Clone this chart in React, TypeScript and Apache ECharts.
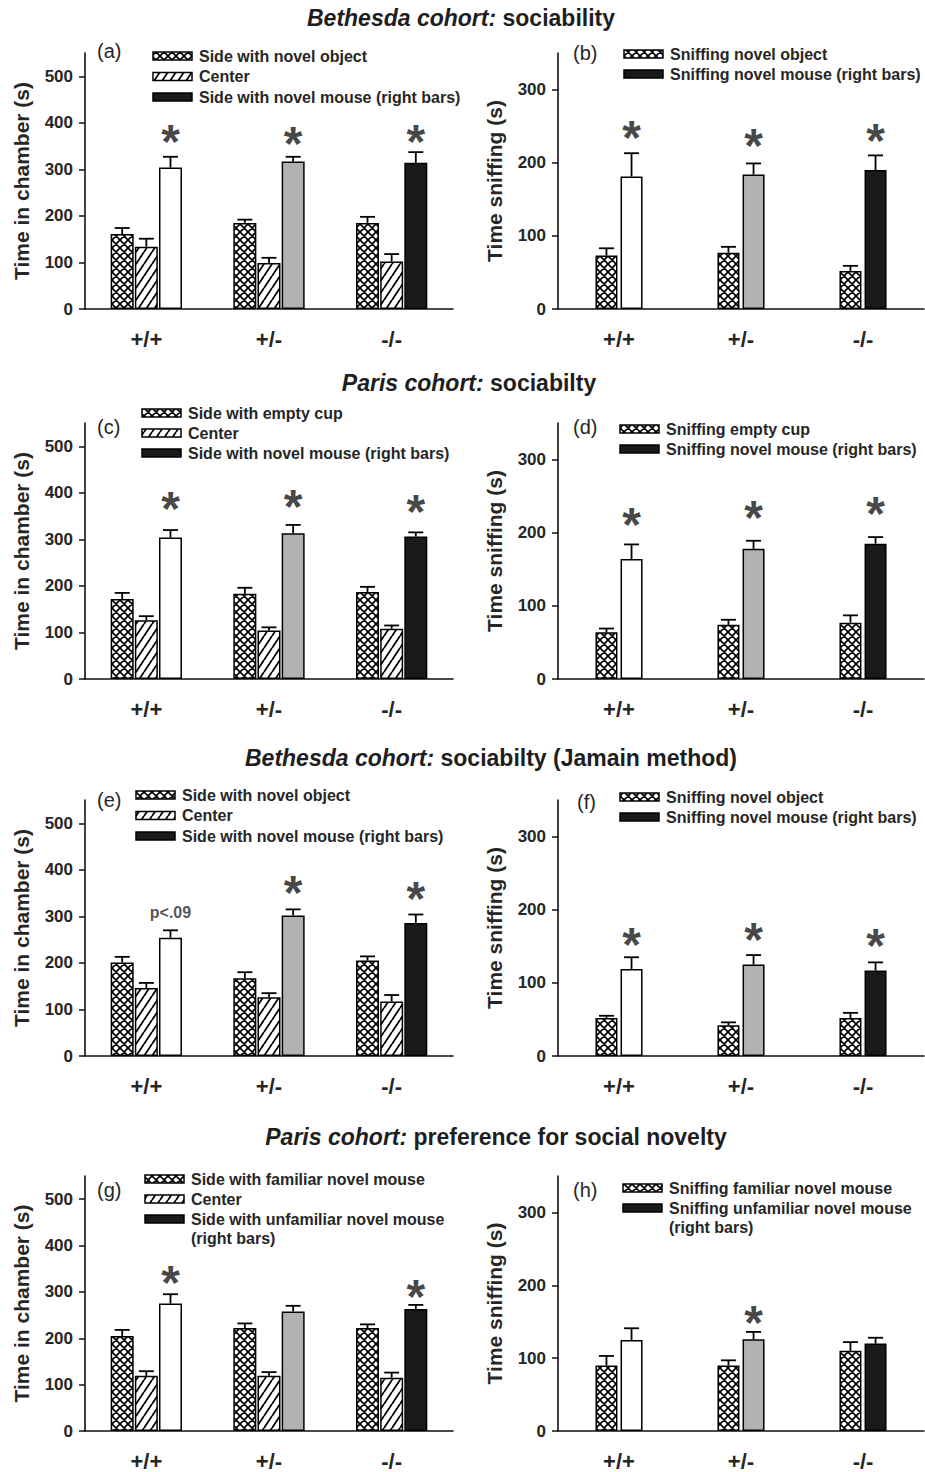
import React, { useEffect, useRef } from 'react';
import * as echarts from 'echarts';

const FONT = '"Liberation Sans", Arial, Helvetica, sans-serif';
const TXT = '#262626';

const categories = ['+/+', '+/-', '-/-'];
const chamberTicks = [0, 100, 200, 300, 400, 500];
const sniffTicks = [0, 100, 200, 300];

// (a)
const aObject = [161, 185, 185];
const aObjectSem = [13, 7, 13];
const aCenter = [134, 99, 102];
const aCenterSem = [17, 11, 16];
const aMouse = [304, 317, 314];
const aMouseSem = [23, 10, 23];
const aMarks = ['*', '*', '*'];
const aMarkAt = [372, 368, 372];
// (b)
const bObject = [73, 77, 52];
const bObjectSem = [10, 8, 7];
const bMouse = [181, 184, 190];
const bMouseSem = [32, 15, 20];
const bMarks = ['*', '*', '*'];
const bMarkAt = [243, 232, 238];
// (c)
const cCup = [172, 183, 187];
const cCupSem = [13, 13, 11];
const cCenter = [126, 104, 108];
const cCenterSem = [9, 7, 7];
const cMouse = [304, 313, 306];
const cMouseSem = [16, 18, 9];
const cMarks = ['*', '*', '*'];
const cMarkAt = [379, 383, 372];
// (d)
const dCup = [64, 74, 77];
const dCupSem = [5, 7, 10];
const dMouse = [164, 178, 185];
const dMouseSem = [20, 11, 9];
const dMarks = ['*', '*', '*'];
const dMarkAt = [220, 229, 234];
// (e)
const eObject = [201, 167, 205];
const eObjectSem = [12, 13, 9];
const eCenter = [146, 126, 117];
const eCenterSem = [11, 9, 14];
const eMouse = [254, 302, 286];
const eMouseSem = [16, 13, 18];
const eMarks = ['p<.09', '*', '*'];
const eMarkAt = [308, 365, 351];
// (f)
const fObject = [52, 42, 52];
const fObjectSem = [3, 4, 7];
const fMouse = [119, 125, 117];
const fMouseSem = [16, 13, 11];
const fMarks = ['*', '*', '*'];
const fMarkAt = [161, 168, 159];
// (g)
const gFamiliar = [205, 222, 222];
const gFamiliarSem = [13, 10, 8];
const gCenter = [119, 119, 115];
const gCenterSem = [10, 8, 11];
const gUnfamiliar = [275, 258, 263];
const gUnfamiliarSem = [20, 12, 9];
const gMarks = ['*', '', '*'];
const gMarkAt = [334, 0, 302];
// (h)
const hFamiliar = [90, 90, 110];
const hFamiliarSem = [13, 7, 12];
const hUnfamiliar = [125, 126, 120];
const hUnfamiliarSem = [16, 10, 8];
const hMarks = ['', '*', ''];
const hMarkAt = [0, 157, 0];

const titles = [
  { italic: 'Bethesda cohort:', plain: ' sociability' },
  { italic: 'Paris cohort:', plain: ' sociabilty' },
  { italic: 'Bethesda cohort:', plain: ' sociabilty (Jamain method)' },
  { italic: 'Paris cohort:', plain: ' preference for social novelty' },
];

type Fill = 'cross' | 'hatch' | 'solid';
interface BarDef { name: string; values: number[]; sem: number[]; fill: Fill }
interface PanelDef {
  label: string; row: number; col: number; bars: BarDef[]; marks: string[]; markAt: number[];
}

const panels: PanelDef[] = [
  { label: '(a)', row: 0, col: 0, marks: aMarks, markAt: aMarkAt, bars: [
    { name: 'Side with novel object', values: aObject, sem: aObjectSem, fill: 'cross' },
    { name: 'Center', values: aCenter, sem: aCenterSem, fill: 'hatch' },
    { name: 'Side with novel mouse (right bars)', values: aMouse, sem: aMouseSem, fill: 'solid' }] },
  { label: '(b)', row: 0, col: 1, marks: bMarks, markAt: bMarkAt, bars: [
    { name: 'Sniffing novel object', values: bObject, sem: bObjectSem, fill: 'cross' },
    { name: 'Sniffing novel mouse (right bars)', values: bMouse, sem: bMouseSem, fill: 'solid' }] },
  { label: '(c)', row: 1, col: 0, marks: cMarks, markAt: cMarkAt, bars: [
    { name: 'Side with empty cup', values: cCup, sem: cCupSem, fill: 'cross' },
    { name: 'Center', values: cCenter, sem: cCenterSem, fill: 'hatch' },
    { name: 'Side with novel mouse (right bars)', values: cMouse, sem: cMouseSem, fill: 'solid' }] },
  { label: '(d)', row: 1, col: 1, marks: dMarks, markAt: dMarkAt, bars: [
    { name: 'Sniffing empty cup', values: dCup, sem: dCupSem, fill: 'cross' },
    { name: 'Sniffing novel mouse (right bars)', values: dMouse, sem: dMouseSem, fill: 'solid' }] },
  { label: '(e)', row: 2, col: 0, marks: eMarks, markAt: eMarkAt, bars: [
    { name: 'Side with novel object', values: eObject, sem: eObjectSem, fill: 'cross' },
    { name: 'Center', values: eCenter, sem: eCenterSem, fill: 'hatch' },
    { name: 'Side with novel mouse (right bars)', values: eMouse, sem: eMouseSem, fill: 'solid' }] },
  { label: '(f)', row: 2, col: 1, marks: fMarks, markAt: fMarkAt, bars: [
    { name: 'Sniffing novel object', values: fObject, sem: fObjectSem, fill: 'cross' },
    { name: 'Sniffing novel mouse (right bars)', values: fMouse, sem: fMouseSem, fill: 'solid' }] },
  { label: '(g)', row: 3, col: 0, marks: gMarks, markAt: gMarkAt, bars: [
    { name: 'Side with familiar novel mouse', values: gFamiliar, sem: gFamiliarSem, fill: 'cross' },
    { name: 'Center', values: gCenter, sem: gCenterSem, fill: 'hatch' },
    { name: 'Side with unfamiliar novel mouse\n(right bars)', values: gUnfamiliar, sem: gUnfamiliarSem, fill: 'solid' }] },
  { label: '(h)', row: 3, col: 1, marks: hMarks, markAt: hMarkAt, bars: [
    { name: 'Sniffing familiar novel mouse', values: hFamiliar, sem: hFamiliarSem, fill: 'cross' },
    { name: 'Sniffing unfamiliar novel mouse\n(right bars)', values: hUnfamiliar, sem: hUnfamiliarSem, fill: 'solid' }] },
];

// layout (styles, not data)
const colLeft = [85, 558];
const colWidth = [368, 366];
const rowTop = [53, 423, 800, 1176];
const gridH = 256;
const rightBarColors = ['#ffffff', '#b2b2b2', '#1a1a1a'];
const legendPos = [
  [153, 56, 20.5], [624, 54, 20], [142, 413, 20], [620, 429, 20],
  [136, 795, 20.5], [620, 797, 20], [145, 1179, 20], [623, 1188, 20],
];
const labelPos = [[97, 51], [573, 53], [97, 427], [573, 427], [97, 800], [577, 802], [97, 1190], [573, 1190]];
const titlePos = [[461, 18], [469, 383], [491, 758], [496, 1137]];

function makeCross(p: number, lw: number) {
  const c = document.createElement('canvas');
  c.width = p; c.height = p;
  const g = c.getContext('2d')!;
  g.fillStyle = '#fff'; g.fillRect(0, 0, p, p);
  g.strokeStyle = '#000'; g.lineWidth = lw;
  g.beginPath();
  for (const o of [-p, 0, p]) {
    g.moveTo(o, 0); g.lineTo(o + p, p);
    g.moveTo(o, p); g.lineTo(o + p, 0);
  }
  g.stroke();
  return { image: c, repeat: 'repeat', imageWidth: p, imageHeight: p } as any;
}
function makeHatch(w: number, h: number, lw: number) {
  const c = document.createElement('canvas');
  c.width = w; c.height = h;
  const g = c.getContext('2d')!;
  g.fillStyle = '#fff'; g.fillRect(0, 0, w, h);
  g.strokeStyle = '#000'; g.lineWidth = lw;
  g.beginPath();
  for (const o of [-w, 0, w]) { g.moveTo(o, h); g.lineTo(o + w, 0); }
  g.stroke();
  return { image: c, repeat: 'repeat', imageWidth: w, imageHeight: h } as any;
}

export default function App() {
  const ref = useRef<HTMLDivElement>(null);
  useEffect(() => {
    const chart = echarts.init(ref.current!, null, { renderer: 'svg' });
    const cross = makeCross(8, 1.7);
    const hatch = makeHatch(8, 12, 1.8);
    const fillFor = (f: Fill) => (f === 'cross' ? cross : f === 'hatch' ? hatch : '#1a1a1a');

    const grid: any[] = [];
    const xAxis: any[] = [];
    const yAxis: any[] = [];
    const series: any[] = [];
    const graphic: any[] = [];

    titles.forEach((t, i) => {
      graphic.push({
        type: 'text', x: titlePos[i][0], y: titlePos[i][1], silent: true,
        style: {
          text: `{i|${t.italic}}{n|${t.plain}}`,
          align: 'center', verticalAlign: 'middle', textAlign: 'center', textVerticalAlign: 'middle',
          rich: {
            i: { fontStyle: 'italic', fontWeight: 'bold', fontSize: 23, fontFamily: FONT, fill: '#1e1e1e', color: '#1e1e1e' },
            n: { fontWeight: 'bold', fontSize: 23, fontFamily: FONT, fill: '#1e1e1e', color: '#1e1e1e' },
          },
        },
      });
    });

    panels.forEach((p, k) => {
      const left = p.col === 0;
      const n = p.bars.length;
      const bw = left ? 23 : 22;
      const gapPct = left ? 0.05 : 0.14;
      const step = bw * (1 + gapPct);
      grid.push({ left: colLeft[p.col], top: rowTop[p.row], width: colWidth[p.col], height: gridH });
      xAxis.push({
        type: 'category', gridIndex: k, data: categories,
        axisLine: { lineStyle: { color: '#111', width: 1.6 } },
        axisTick: { alignWithLabel: true, length: 6, lineStyle: { color: '#111', width: 1.5 } },
        axisLabel: { fontSize: 22, fontWeight: 'bold', color: TXT, fontFamily: FONT, margin: 19 },
        splitLine: { show: false },
      });
      const ticks = left ? chamberTicks : sniffTicks;
      yAxis.push({
        type: 'value', gridIndex: k, min: 0, max: left ? 550 : 350, interval: 100,
        name: left ? 'Time in chamber (s)' : 'Time sniffing (s)',
        nameLocation: 'middle', nameGap: 53,
        nameTextStyle: { fontSize: 21, fontWeight: 'bold', color: TXT, fontFamily: FONT },
        axisLine: { show: true, lineStyle: { color: '#111', width: 1.6 } },
        axisTick: { show: true, length: 6, customValues: ticks, lineStyle: { color: '#111', width: 1.5 } },
        axisLabel: {
          fontSize: 17, fontWeight: 'bold', color: TXT, fontFamily: FONT, margin: 12, customValues: ticks,
          formatter: (v: number) => (v % 100 === 0 && v <= ticks[ticks.length - 1] ? String(v) : ''),
        },
        splitLine: { show: false },
      });

      p.bars.forEach((b, j) => {
        const isRight = j === n - 1;
        series.push({
          type: 'bar', name: b.name, xAxisIndex: k, yAxisIndex: k,
          barWidth: bw, barGap: `${gapPct * 100}%`, silent: true,
          itemStyle: { color: fillFor(b.fill), borderColor: '#000', borderWidth: 1.5 },
          data: isRight
            ? b.values.map((v, i) => ({ value: v, itemStyle: { color: rightBarColors[i] } }))
            : b.values.slice(),
          z: 2,
        });
      });

      const errData: number[][] = [];
      p.bars.forEach((b, j) => b.values.forEach((v, i) => errData.push([i, v, j, b.sem[i]])));
      series.push({
        type: 'custom', xAxisIndex: k, yAxisIndex: k, silent: true, z: 3,
        encode: { x: 0, y: 1 },
        data: errData,
        renderItem: (params: any, api: any) => {
          const cat = api.value(0), v = api.value(1), j = api.value(2), s = api.value(3);
          const p0 = api.coord([cat, v]);
          const p1 = api.coord([cat, v + s]);
          const x = p0[0] + (j - (n - 1) / 2) * step;
          const st = { stroke: '#000', lineWidth: 1.8 };
          return {
            type: 'group', children: [
              { type: 'line', shape: { x1: x, y1: p0[1], x2: x, y2: p1[1] }, style: st },
              { type: 'line', shape: { x1: x - 7.5, y1: p1[1], x2: x + 7.5, y2: p1[1] }, style: st },
            ],
          };
        },
      });

      const dx = ((n - 1) / 2) * step;
      const markData: any[] = [];
      p.marks.forEach((m, i) => {
        if (!m) return;
        const star = m === '*';
        markData.push({
          value: [i, p.markAt[i]],
          label: {
            show: true, position: 'inside', formatter: m,
            fontSize: star ? 48 : 16, fontWeight: 'bold', fontFamily: FONT,
            color: star ? '#161616' : TXT, offset: [dx, star ? 6 : 0],
          },
        });
      });
      series.push({
        type: 'scatter', xAxisIndex: k, yAxisIndex: k, silent: true, z: 4,
        symbolSize: 0, itemStyle: { color: 'transparent' }, data: markData,
      });

      // panel label
      graphic.push({
        type: 'text', x: labelPos[k][0], y: labelPos[k][1], silent: true,
        style: { text: p.label, fontSize: 20, fontFamily: FONT, fill: TXT, verticalAlign: 'middle', textVerticalAlign: 'middle' },
      });
      // legend
      const [lx, ly, lg] = legendPos[k];
      p.bars.forEach((b, j) => {
        const y = ly + j * lg;
        graphic.push({
          type: 'rect', silent: true,
          shape: { x: lx, y: y - 4, width: 39, height: 8 },
          style: { fill: fillFor(b.fill), stroke: '#000', lineWidth: 1.5 },
        });
        graphic.push({
          type: 'text', silent: true, x: lx + 46, y: y - 9.5,
          style: {
            text: b.name, fontSize: 16, fontWeight: 'bold', fontFamily: FONT, fill: TXT,
            lineHeight: 19, verticalAlign: 'top', textVerticalAlign: 'top',
          },
        });
      });
    });

    chart.setOption({
      animation: false,
      backgroundColor: '#ffffff',
      textStyle: { fontFamily: FONT },
      grid, xAxis, yAxis, series, graphic,
    });
    return () => chart.dispose();
  }, []);
  return <div ref={ref} style={{ position: 'absolute', left: 0, top: 0, width: 925, height: 1472 }} />;
}
